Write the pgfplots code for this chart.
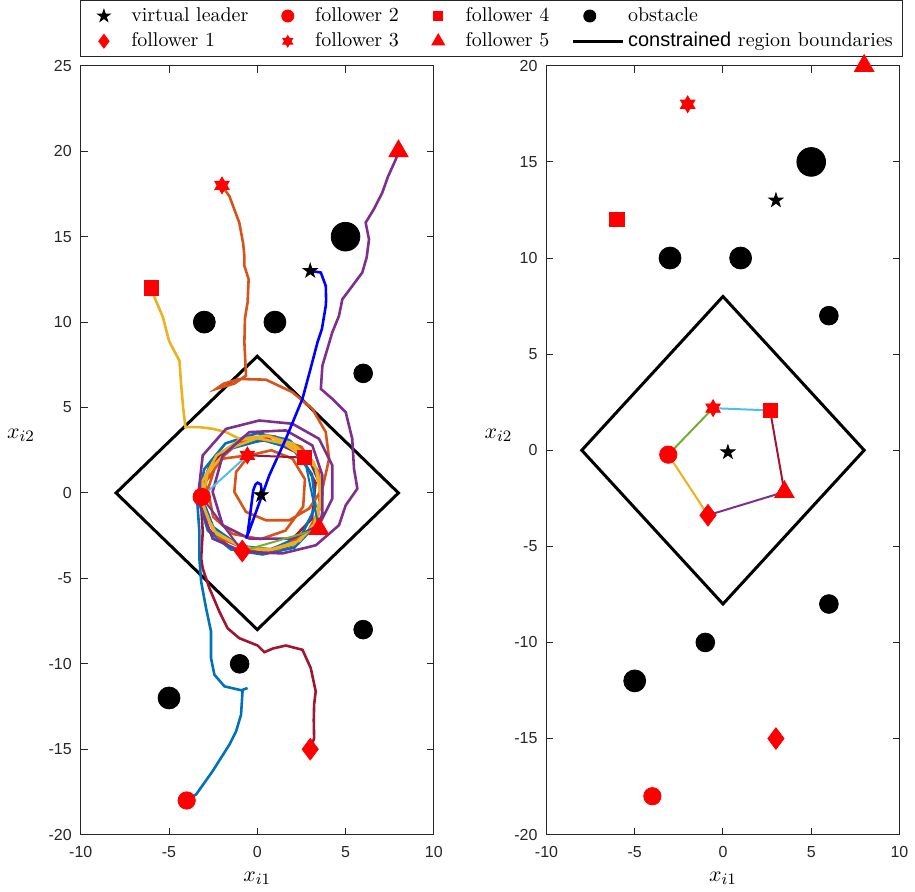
\documentclass[border=0pt]{standalone}
\usepackage{fontspec}
\setsansfont{Liberation Sans}
\usepackage{pgfplots}
\pgfplotsset{compat=1.18}

\definecolor{axgray}{RGB}{38,38,38}
\definecolor{mblue}{HTML}{0072BD}
\definecolor{morange}{HTML}{D95319}
\definecolor{myellow}{HTML}{EDB120}
\definecolor{mpurple}{HTML}{7E2F8E}
\definecolor{mgreen}{HTML}{77AC30}
\definecolor{mcyan}{HTML}{4DBEEE}
\definecolor{mred}{HTML}{A2142F}

\pgfdeclareplotmark{hexagram*}{%
 \pgfpathmoveto{\pgfpointpolar{90}{\pgfplotmarksize}}%
 \pgfpathlineto{\pgfpointpolar{120}{0.577\pgfplotmarksize}}%
 \pgfpathlineto{\pgfpointpolar{150}{\pgfplotmarksize}}%
 \pgfpathlineto{\pgfpointpolar{180}{0.577\pgfplotmarksize}}%
 \pgfpathlineto{\pgfpointpolar{210}{\pgfplotmarksize}}%
 \pgfpathlineto{\pgfpointpolar{240}{0.577\pgfplotmarksize}}%
 \pgfpathlineto{\pgfpointpolar{270}{\pgfplotmarksize}}%
 \pgfpathlineto{\pgfpointpolar{300}{0.577\pgfplotmarksize}}%
 \pgfpathlineto{\pgfpointpolar{330}{\pgfplotmarksize}}%
 \pgfpathlineto{\pgfpointpolar{0}{0.577\pgfplotmarksize}}%
 \pgfpathlineto{\pgfpointpolar{30}{\pgfplotmarksize}}%
 \pgfpathlineto{\pgfpointpolar{60}{0.577\pgfplotmarksize}}%
 \pgfpathclose
 \pgfusepathqfillstroke}
\pgfdeclareplotmark{pentagram*}{%
 \pgfpathmoveto{\pgfpointpolar{90}{\pgfplotmarksize}}%
 \pgfpathlineto{\pgfpointpolar{126}{0.382\pgfplotmarksize}}%
 \pgfpathlineto{\pgfpointpolar{162}{\pgfplotmarksize}}%
 \pgfpathlineto{\pgfpointpolar{198}{0.382\pgfplotmarksize}}%
 \pgfpathlineto{\pgfpointpolar{234}{\pgfplotmarksize}}%
 \pgfpathlineto{\pgfpointpolar{270}{0.382\pgfplotmarksize}}%
 \pgfpathlineto{\pgfpointpolar{306}{\pgfplotmarksize}}%
 \pgfpathlineto{\pgfpointpolar{342}{0.382\pgfplotmarksize}}%
 \pgfpathlineto{\pgfpointpolar{18}{\pgfplotmarksize}}%
 \pgfpathlineto{\pgfpointpolar{54}{0.382\pgfplotmarksize}}%
 \pgfpathclose
 \pgfusepathqfillstroke}

\pgfplotsset{
 legmark/.style={legend image code/.code={\path (0pt,0pt) (20pt,0pt);\draw[##1] plot[only marks] coordinates {(8.5pt,0pt)};}},
 legline/.style={legend image code/.code={\draw[##1] (0pt,0pt) -- (25pt,0pt);}},
 mat/.style={
  scale only axis, width=177pt, height=385.5pt,
  xmin=-10, xmax=10, xtick={-10,-5,0,5,10},
  clip=false,
  axis line style={draw=axgray, line width=0.5pt},
  tick align=inside, major tick length=3.5pt,
  every tick/.style={draw=axgray, line width=0.5pt},
  tick label style={font=\sffamily\fontsize{8}{9.6}\selectfont, text=axgray},
  xticklabel style={yshift=-2.5pt},
  yticklabel style={xshift=-1pt},
  /pgf/number format/assume math mode=true,
  xlabel={$x_{i1}$}, ylabel={$x_{i2}$},
  xlabel style={at={(axis description cs:0.5,-0.057)}, anchor=center, font=\fontsize{11}{13}\selectfont},
  ylabel style={rotate=-90, anchor=center, font=\fontsize{11}{13}\selectfont},
 },
 obsbig/.style={only marks, mark=*, mark size=7.2pt, black, forget plot},
 obsmed/.style={only marks, mark=*, mark size=5.5pt, black, forget plot},
 obssmall/.style={only marks, mark=*, mark size=4.7pt, black, forget plot},
 region/.style={black, line width=1.5pt, forget plot},
 traj/.style={line width=1.3pt, forget plot},
}

\begin{document}
\begin{tikzpicture}
\begin{axis}[mat, name=L, at={(0pt,0pt)}, anchor=south west,
  ymin=-20, ymax=25, ytick={-20,-15,-10,-5,0,5,10,15,20,25},
  ylabel style={at={(axis description cs:-0.1695,0.519)}},
  legend columns=4,
  legend style={at={(axis description cs:1.1638,1.0856)}, anchor=north,
    draw=axgray, line width=0.5pt, font=\fontsize{10}{12}\selectfont,
    inner xsep=3pt, inner ysep=1.5pt,
    /tikz/every even column/.append style={column sep=9pt}},
  legend cell align=left]

\addlegendimage{legmark, only marks, mark=pentagram*, mark size=3.2pt, black}
\addlegendentry{virtual leader}
\addlegendimage{legmark, only marks, mark=*, mark size=3pt, red}
\addlegendentry{follower 2}
\addlegendimage{legmark, only marks, mark=square*, mark size=2.3pt, red}
\addlegendentry{follower 4}
\addlegendimage{legmark, only marks, mark=*, mark size=3pt, black}
\addlegendentry{obstacle}
\addlegendimage{legmark, only marks, mark=diamond*, mark size=3.4pt, red}
\addlegendentry{follower 1}
\addlegendimage{legmark, only marks, mark=hexagram*, mark size=2.8pt, red}
\addlegendentry{follower 3}
\addlegendimage{legmark, only marks, mark=triangle*, mark size=3.6pt, red}
\addlegendentry{follower 5}
\addlegendimage{legline, black, line width=1.5pt}
\addlegendentry{{\sffamily constrained} region boundaries}

% obstacles
\addplot[obsbig] coordinates {(5,15)};
\addplot[obsmed] coordinates {(-3,10) (1,10) (-5,-12)};
\addplot[obssmall] coordinates {(6,7) (6,-8) (-1,-10)};
% region
\addplot[region] coordinates {(0,8) (8,0) (0,-8) (-8,0) (0,8) (8,0)};

% follower 1 (dark red)
\addplot[mred, traj] coordinates {
(3.03,-15.0) (3.22,-14.34) (3.2,-13.3) (3.22,-12.39) (3.31,-11.61) (3.03,-10.25) (2.56,-9.18) (1.62,-8.93) (0.9,-9.1) (0.4,-9.32) (0.02,-8.93) (-1.02,-8.5) (-1.68,-7.92) (-2.15,-6.94) (-2.71,-5.58) (-3.09,-4.42) (-3.18,-3.83) (-3.09,-2.28) (-3.2,-0.3) (-2.6,1.8) (-1.0,3.1) (1.0,3.3) (2.8,2.3) (3.6,0.4) (3.4,-1.7) (2.2,-3.0) (0.4,-3.5) (-1.4,-3.3) (-2.8,-2.1) (-3.3,-0.2) (-2.7,1.6) (-1.2,2.9) (0.7,3.1) (2.4,2.3) (3.3,0.6) (3.1,-1.5) (1.8,-2.9) (0.5,-3.4) (-0.85,-3.4)};
% follower 2 (blue)
\addplot[mblue, traj] coordinates {
(-4.03,-18.0) (-3.46,-17.64) (-2.53,-16.28) (-1.58,-14.73) (-1.2,-13.95) (-0.92,-12.98) (-0.83,-11.52) (-0.55,-11.42) (-0.9,-11.55) (-1.86,-11.32) (-2.43,-10.64) (-2.62,-9.67) (-2.62,-8.11) (-2.9,-6.75) (-3.18,-5.19) (-3.28,-3.83) (-3.28,-2.28) (-3.4,-0.5) (-3.0,1.4) (-1.8,2.9) (0.0,3.5) (1.8,3.1) (3.1,1.9) (3.7,0.0) (3.3,-1.9) (2.1,-3.2) (0.3,-3.6) (-1.5,-3.3) (-2.8,-2.2) (-3.3,-0.5) (-2.8,1.3) (-1.5,2.6) (0.3,3.1) (2.0,2.6) (3.1,1.1) (3.3,-0.8) (2.5,-2.5) (0.8,-3.3) (-1.0,-3.1) (-2.5,-2.0) (-3.15,-0.23)};
% follower 3 (orange)
\addplot[morange, traj] coordinates {
(-2.02,18.0) (-1.58,17.37) (-1.02,15.82) (-0.8,14.6) (-0.73,13.87) (-0.73,13.29) (-0.49,12.51) (-0.55,11.15) (-0.7,10.2) (-0.73,8.81) (-0.64,6.87) (-1.3,6.4) (-2.33,6.09) (-1.9,6.4) (-1.02,6.67) (0.49,6.63) (1.99,5.9) (3.12,4.92) (3.88,3.56) (4.07,2.0) (3.69,0.25) (2.94,-0.91) (1.81,-1.6) (0.49,-1.6) (-0.64,-1.11) (-1.3,0.06) (-1.2,1.23) (-0.45,2.2) (0.8,2.5) (2.0,2.0) (2.7,0.8) (2.6,-0.8) (1.6,-2.2) (0.2,-2.7) (-1.4,-2.4) (-2.5,-1.4) (-2.8,0.2) (-2.3,1.8) (-1.0,3.0) (0.8,3.3) (2.5,2.7) (3.5,1.2) (3.6,-0.8) (2.8,-2.4) (1.2,-3.3) (-0.6,-3.3) (-2.2,-2.6) (-3.0,-1.1) (-2.9,0.7) (-2.0,2.0) (-0.56,2.2)};
% follower 4 (yellow)
\addplot[myellow, traj] coordinates {
(-6.06,12.02) (-5.6,10.9) (-5.35,10.3) (-5.0,8.9) (-4.7,8.3) (-4.41,7.74) (-4.31,6.28) (-4.2,5.0) (-4.07,3.85) (-3.28,3.85) (-2.5,3.75) (-1.77,3.56) (-1.02,3.17) (0.5,3.35) (2.0,2.9) (3.2,1.8) (3.7,0.2) (3.4,-1.6) (2.4,-2.8) (0.8,-3.3) (-0.8,-3.2) (-2.3,-2.4) (-3.1,-1.0) (-3.1,0.7) (-2.3,2.2) (-1.0,3.1) (0.6,3.35) (2.1,2.7) (3.3,1.5) (3.6,-0.2) (3.2,-1.9) (2.1,-3.0) (0.5,-3.4) (-1.0,-3.1) (-2.5,-2.2) (-3.15,-0.5) (-2.8,1.2) (-1.6,2.6) (0.0,3.2) (1.5,2.9) (2.67,2.07)};
% follower 5 (purple)
\addplot[mpurple, traj] coordinates {
(8.02,20.0) (7.84,19.51) (7.4,18.5) (7.08,17.57) (6.6,16.6) (6.14,15.82) (6.33,14.84) (6.2,13.8) (5.95,12.9) (5.3,12.0) (4.82,11.34) (4.63,10.37) (4.25,9.4) (3.69,7.45) (3.6,6.09) (4.25,5.51) (5.01,4.73) (5.38,3.17) (5.48,1.42) (5.67,0.25) (5.01,-0.72) (4.63,-1.89) (3.32,-3.06) (1.43,-3.54) (-0.83,-3.44) (-2.53,-2.67) (-3.37,-0.33) (-3.09,2.2) (-1.77,3.75) (0.11,4.24) (1.99,4.05) (3.5,3.17) (4.25,1.61) (4.25,-0.33) (3.5,-1.89) (1.99,-2.67) (-0.45,-2.67) (-1.96,-1.89) (-2.53,0.06) (-1.96,2.2) (-0.45,3.56) (1.62,3.66) (3.12,2.78) (3.69,1.03) (3.69,-1.11) (3.5,-2.1)};
% virtual leader (blue)
\addplot[blue, traj] coordinates {
(3.0,13.0) (3.6,12.9) (3.88,12.12) (3.9,11.3) (3.88,10.95) (3.66,9.59) (3.41,8.81) (3.0,7.2) (2.56,5.51) (1.62,3.17) (0.68,1.03) (-0.07,-1.11) (-0.45,-2.2) (-0.64,-2.67) (-0.55,-2.4) (-0.36,-0.91) (-0.23,0.15) (-0.1,0.5) (0.02,0.6) (0.2,0.5) (0.24,0.2) (0.22,-0.12)};

% formation lines
\addplot[mred, line width=1pt, forget plot] coordinates {(-0.56,2.2) (2.67,2.07)};
\addplot[mblue, line width=1pt, forget plot] coordinates {(2.67,2.07) (3.5,-2.1)};
\addplot[mgreen, line width=1pt, forget plot] coordinates {(3.5,-2.1) (-0.85,-3.4)};
\addplot[mpurple, line width=1pt, forget plot] coordinates {(-0.85,-3.4) (-3.15,-0.23)};
\addplot[mcyan, line width=1pt, forget plot] coordinates {(-3.15,-0.23) (-0.56,2.2)};

% markers
\addplot[only marks, mark=pentagram*, mark size=3.7pt, black, forget plot] coordinates {(3,13) (0.22,-0.12)};
\addplot[only marks, mark=diamond*, mark size=5.4pt, red, forget plot] coordinates {(3,-15) (-0.85,-3.4)};
\addplot[only marks, mark=*, mark size=4.35pt, red, forget plot] coordinates {(-4,-18) (-3.15,-0.23)};
\addplot[only marks, mark=hexagram*, mark size=4.2pt, red, forget plot] coordinates {(-2,18) (-0.56,2.2)};
\addplot[only marks, mark=square*, mark size=3.6pt, red, forget plot] coordinates {(-6,12) (2.67,2.07)};
\addplot[only marks, mark=triangle*, mark size=5.6pt, red, forget plot] coordinates {(8,20) (3.5,-2.1)};
\end{axis}

\begin{axis}[mat, name=R, at={(233.5pt,0pt)}, anchor=south west,
  ymin=-20, ymax=20, ytick={-20,-15,-10,-5,0,5,10,15,20},
  ylabel style={at={(axis description cs:-0.136,0.519)}}]
\addplot[obsbig] coordinates {(5,15)};
\addplot[obsmed] coordinates {(-3,10) (1,10) (-5,-12)};
\addplot[obssmall] coordinates {(6,7) (6,-8) (-1,-10)};
\addplot[region] coordinates {(0,8) (8,0) (0,-8) (-8,0) (0,8) (8,0)};

\addplot[mgreen, line width=1pt, forget plot] coordinates {(-3.1,-0.23) (-0.56,2.19)};
\addplot[mcyan, line width=1pt, forget plot] coordinates {(-0.56,2.19) (2.67,2.07)};
\addplot[mred, line width=1pt, forget plot] coordinates {(2.67,2.07) (3.48,-2.17)};
\addplot[mpurple, line width=1pt, forget plot] coordinates {(3.48,-2.17) (-0.85,-3.38)};
\addplot[myellow, line width=1pt, forget plot] coordinates {(-0.85,-3.38) (-3.1,-0.23)};

\addplot[only marks, mark=pentagram*, mark size=3.7pt, black, forget plot] coordinates {(3,13) (0.28,-0.1)};
\addplot[only marks, mark=diamond*, mark size=5.4pt, red, forget plot] coordinates {(3,-15) (-0.85,-3.38)};
\addplot[only marks, mark=*, mark size=4.35pt, red, forget plot] coordinates {(-4,-18) (-3.1,-0.23)};
\addplot[only marks, mark=hexagram*, mark size=4.2pt, red, forget plot] coordinates {(-2,18) (-0.56,2.19)};
\addplot[only marks, mark=square*, mark size=3.6pt, red, forget plot] coordinates {(-6,12) (2.67,2.07)};
\addplot[only marks, mark=triangle*, mark size=5.6pt, red, forget plot] coordinates {(8,20) (3.48,-2.17)};
\end{axis}
\path (-40.5pt,-27.5pt) rectangle (417pt,418.5pt);
\end{tikzpicture}
\end{document}
